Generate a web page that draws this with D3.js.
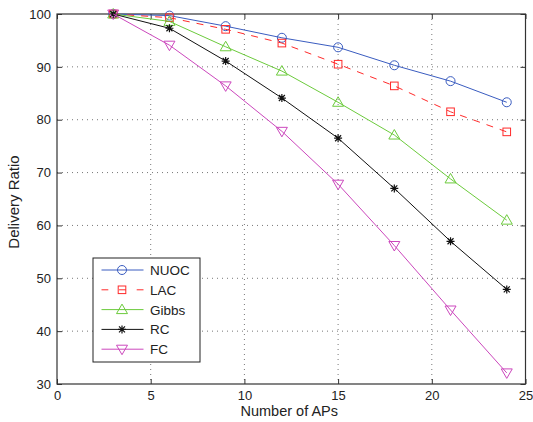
<!DOCTYPE html>
<html>
<head>
<meta charset="utf-8">
<style>
  body { margin: 0; background: #fff; }
  svg { font-family: 'Liberation Sans', Arial, sans-serif; }
  .tick text { font-size: 13px; fill: #222; }
  .grid line { stroke: #777; stroke-dasharray: 1,4; }
</style>
</head>
<body>
<svg width="533" height="422"></svg>
<script src="https://d3js.org/d3.v7.min.js"></script>
<script>
const aps = [3, 6, 9, 12, 15, 18, 21, 24];
const nuoc  = [100, 99.7, 97.7, 95.5, 93.7, 90.3, 87.3, 83.3];
const lac   = [100, 99.3, 97.1, 94.5, 90.5, 86.4, 81.5, 77.7];
const gibbs = [100, 98.6, 93.8, 89.2, 83.3, 77.1, 68.8, 61.0];
const rc    = [100, 97.3, 91.1, 84.1, 76.5, 67.0, 57.0, 47.9];
const fc    = [100, 94.1, 86.4, 77.8, 67.8, 56.2, 44.0, 32.1];
const xTicks = [0, 5, 10, 15, 20, 25];
const yTicks = [30, 40, 50, 60, 70, 80, 90, 100];

const series = [
  { name: "NUOC", values: nuoc, color: "#3a5cc0", dash: null, marker: "circle" },
  { name: "LAC", values: lac, color: "#ff2a2a", dash: "7,7", marker: "square" },
  { name: "Gibbs", values: gibbs, color: "#6ccb3c", dash: null, marker: "up" },
  { name: "RC", values: rc, color: "#111", dash: null, marker: "star" },
  { name: "FC", values: fc, color: "#cc47bd", dash: null, marker: "down" }
];

const svg = d3.select("svg");
const margin = { left: 57, right: 525.5, top: 14, bottom: 384 };

const x = d3.scaleLinear().domain([0, 25]).range([margin.left, margin.right]);
const y = d3.scaleLinear().domain([30, 100]).range([margin.bottom, margin.top]);

// grid
svg.append("g").attr("class", "grid")
  .selectAll("line").data(xTicks.slice(1, -1)).join("line")
  .attr("x1", d => x(d)).attr("x2", d => x(d))
  .attr("y1", margin.top).attr("y2", margin.bottom);
svg.append("g").attr("class", "grid")
  .selectAll("line").data(yTicks.slice(1, -1)).join("line")
  .attr("y1", d => y(d)).attr("y2", d => y(d))
  .attr("x1", margin.left).attr("x2", margin.right);

// axes
svg.append("g")
  .attr("transform", `translate(0,${margin.bottom})`)
  .call(d3.axisBottom(x).tickValues(xTicks).tickSize(-5).tickPadding(7));
svg.append("g")
  .attr("transform", `translate(${margin.left},0)`)
  .call(d3.axisLeft(y).tickValues(yTicks).tickSize(-5).tickPadding(6));
svg.append("g")
  .attr("transform", `translate(0,${margin.top})`)
  .call(d3.axisTop(x).tickValues(xTicks).tickSize(-5).tickFormat(""));
svg.append("g")
  .attr("transform", `translate(${margin.right},0)`)
  .call(d3.axisRight(y).tickValues(yTicks).tickSize(-5).tickFormat(""));
svg.selectAll(".domain").remove();
svg.selectAll(".tick line").attr("stroke", "#333");

svg.append("rect")
  .attr("x", margin.left).attr("y", margin.top)
  .attr("width", margin.right - margin.left).attr("height", margin.bottom - margin.top)
  .attr("fill", "none").attr("stroke", "#333").attr("stroke-width", 1.2);

// labels
svg.append("text")
  .attr("x", (margin.left + margin.right) / 2 - 2).attr("y", 416)
  .attr("text-anchor", "middle").style("font-size", "14.5px").attr("fill", "#222")
  .text("Number of APs");
svg.append("text")
  .attr("transform", `translate(19,${(margin.top + margin.bottom) / 2 + 3}) rotate(-90)`)
  .attr("text-anchor", "middle").style("font-size", "15px").attr("fill", "#222")
  .text("Delivery Ratio");

function drawMarker(g, type, color) {
  if (type === "circle") {
    g.append("circle").attr("r", 4.5).attr("fill", "none").attr("stroke", color);
  } else if (type === "square") {
    g.append("rect").attr("x", -3.8).attr("y", -3.8).attr("width", 7.6).attr("height", 7.6)
      .attr("fill", "none").attr("stroke", color);
  } else if (type === "up") {
    g.append("path").attr("d", "M0,-5.5L5.5,4L-5.5,4Z").attr("fill", "none").attr("stroke", color);
  } else if (type === "down") {
    g.append("path").attr("d", "M0,5.5L5.5,-4L-5.5,-4Z").attr("fill", "none").attr("stroke", color);
  } else if (type === "star") {
    g.append("path")
      .attr("d", "M-4,0L4,0M0,-4L0,4M-3,-3L3,3M-3,3L3,-3")
      .attr("stroke", color).attr("stroke-width", 1.2);
  }
}

const line = d3.line().x((d, i) => x(aps[i])).y(d => y(d));

series.forEach(s => {
  svg.append("path")
    .attr("d", line(s.values))
    .attr("fill", "none")
    .attr("stroke", s.color)
    .attr("stroke-width", 1)
    .attr("stroke-dasharray", s.dash);
  s.values.forEach((v, i) => {
    const g = svg.append("g").attr("transform", `translate(${x(aps[i])},${y(v)})`);
    drawMarker(g, s.marker, s.color);
  });
});

// legend
const lg = svg.append("g");
lg.append("rect")
  .attr("x", 93).attr("y", 258).attr("width", 107).attr("height", 104)
  .attr("fill", "#fff").attr("stroke", "#222");
series.forEach((s, i) => {
  const yy = 270 + i * 19.8;
  lg.append("line")
    .attr("x1", 101.5).attr("x2", 143.5).attr("y1", yy).attr("y2", yy)
    .attr("stroke", s.color).attr("stroke-dasharray", s.dash ? "6.8,10.8" : null);
  const g = lg.append("g").attr("transform", `translate(122,${yy})`);
  drawMarker(g, s.marker, s.color);
  lg.append("text")
    .attr("x", 150).attr("y", yy + 5)
    .style("font-size", "13.5px").attr("fill", "#222")
    .text(s.name);
});
</script>
</body>
</html>
